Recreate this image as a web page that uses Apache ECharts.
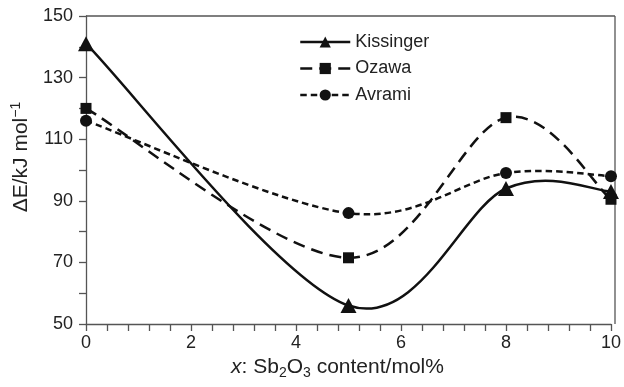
<!DOCTYPE html>
<html><head><meta charset="utf-8">
<script src="https://cdn.jsdelivr.net/npm/echarts@6/dist/echarts.min.js"></script>
<style>html,body{margin:0;padding:0;background:#fff}#c{width:624px;height:387px}</style>
</head><body><div id="c"></div>
<script>
var xValues = [0, 5, 8, 10];
var kissinger = [141, 56, 94, 93];
var ozawa = [120, 71.5, 117, 90.5];
var avrami = [116, 86, 99, 98];
var yTicks = [50, 70, 90, 110, 130, 150];
var xTicks = [0, 2, 4, 6, 8, 10];
var seriesNames = ['Kissinger', 'Ozawa', 'Avrami'];

function pairs(v){ return xValues.map(function(x,i){return [x, v[i]];}); }
var font = 'Liberation Sans, Arial, Helvetica, sans-serif';
var ink = '#111';
var dashes = {Kissinger:'solid', Ozawa:[12,7], Avrami:[6.5,4]};
var symbols = {Kissinger:'triangle', Ozawa:'rect', Avrami:'circle'};
var symbolSizes = {Kissinger:[16,15], Ozawa:11, Avrami:12};
var lineW = 2.5;

// smooth curve through the data points (drawn in pixel space via the axes)
function curveSeries(name, vals){
  return {
    name: name + ' curve', type:'custom', silent:true, z:1,
    data: pairs(vals),
    renderItem: function(params, api){
      if (params.dataIndex !== 0) return null;
      var p = xValues.map(function(x,i){ return api.coord([x, vals[i]]); });
      var n = p.length, t = 1/6;
      var d = 'M' + p[0][0] + ' ' + p[0][1];
      for (var i = 0; i < n-1; i++){
        var a = p[i-1] || p[i], b = p[i], c = p[i+1], e = p[i+2] || p[i+1];
        var c1x = b[0] + (c[0]-a[0])*t, c1y = b[1] + (c[1]-a[1])*t;
        var c2x = c[0] - (e[0]-b[0])*t, c2y = c[1] - (e[1]-b[1])*t;
        d += ' C' + c1x + ' ' + c1y + ' ' + c2x + ' ' + c2y + ' ' + c[0] + ' ' + c[1];
      }
      var dash = dashes[name];
      return {type:'path', shape:{pathData:d},
        style:{fill:'none', stroke:ink, lineWidth:lineW, lineDash: dash === 'solid' ? null : dash}};
    }
  };
}
function markerSeries(name, vals){
  return {name:name, type:'line', data:pairs(vals), z:3,
    symbol:symbols[name], symbolSize:symbolSizes[name], showSymbol:true,
    color:ink, itemStyle:{color:ink},
    lineStyle:{opacity:0, color:ink, width:lineW, type:dashes[name]}};
}

var chart = echarts.init(document.getElementById('c'), null, {renderer:'canvas'});
var axisLineStyle = {color:'#555', width:1.3};
chart.setOption({
  animation:false,
  grid:{left:86, right:9, top:16, bottom:63},
  legend:{
    left:299, top:33, orient:'vertical', padding:0, itemWidth:50, itemHeight:14, itemGap:8.5,
    textStyle:{fontFamily:font, fontSize:18, lineHeight:18, color:'#222'},
    data: seriesNames.map(function(n){
      return {name:n, lineStyle:{opacity:1, color:ink, width:lineW, type:dashes[n]}};
    })
  },
  xAxis:{
    type:'value', min:0, max:10, interval:2,
    axisLine:{show:true, lineStyle:axisLineStyle},
    axisTick:{show:true, length:7, inside:false, lineStyle:axisLineStyle},
    minorTick:{show:true, splitNumber:5, length:7, lineStyle:axisLineStyle},
    splitLine:{show:false},
    axisLabel:{fontFamily:font, fontSize:18, color:'#222', margin:10},
    name:'{i|x}: Sb{sub|2}O{sub|3} content/mol%',
    nameLocation:'middle', nameGap:30,
    nameTextStyle:{fontFamily:font, fontSize:21, color:'#222', padding:[0,22,0,0],
      rich:{i:{fontStyle:'italic', fontFamily:font, fontSize:21, color:'#222'},
            sub:{fontFamily:font, fontSize:14, color:'#222', padding:[11,0,0,0]}}}
  },
  yAxis:{
    type:'value', min:50, max:150, interval:20,
    axisLine:{show:true, lineStyle:axisLineStyle},
    axisTick:{show:true, length:7, inside:false, lineStyle:axisLineStyle},
    minorTick:{show:true, splitNumber:2, length:7, lineStyle:axisLineStyle},
    splitLine:{show:false},
    axisLabel:{fontFamily:font, fontSize:18, color:'#222', margin:13},
    name:'ΔE/kJ mol{sup|−1}',
    nameLocation:'middle', nameGap:48, nameRotate:90,
    nameTextStyle:{fontFamily:font, fontSize:21, color:'#222', padding:[0,0,0,26],
      rich:{sup:{fontFamily:font, fontSize:14, color:'#222', padding:[0,0,10,0]}}}
  },
  graphic:[
    {type:'line', shape:{x1:86, y1:16, x2:615, y2:16}, style:{stroke:'#555', lineWidth:1.3}},
    {type:'line', shape:{x1:615, y1:16, x2:615, y2:324}, style:{stroke:'#555', lineWidth:1.3}}
  ],
  series:[
    curveSeries('Kissinger', kissinger),
    curveSeries('Ozawa', ozawa),
    curveSeries('Avrami', avrami),
    markerSeries('Kissinger', kissinger),
    markerSeries('Ozawa', ozawa),
    markerSeries('Avrami', avrami)
  ]
});
</script></body></html>
